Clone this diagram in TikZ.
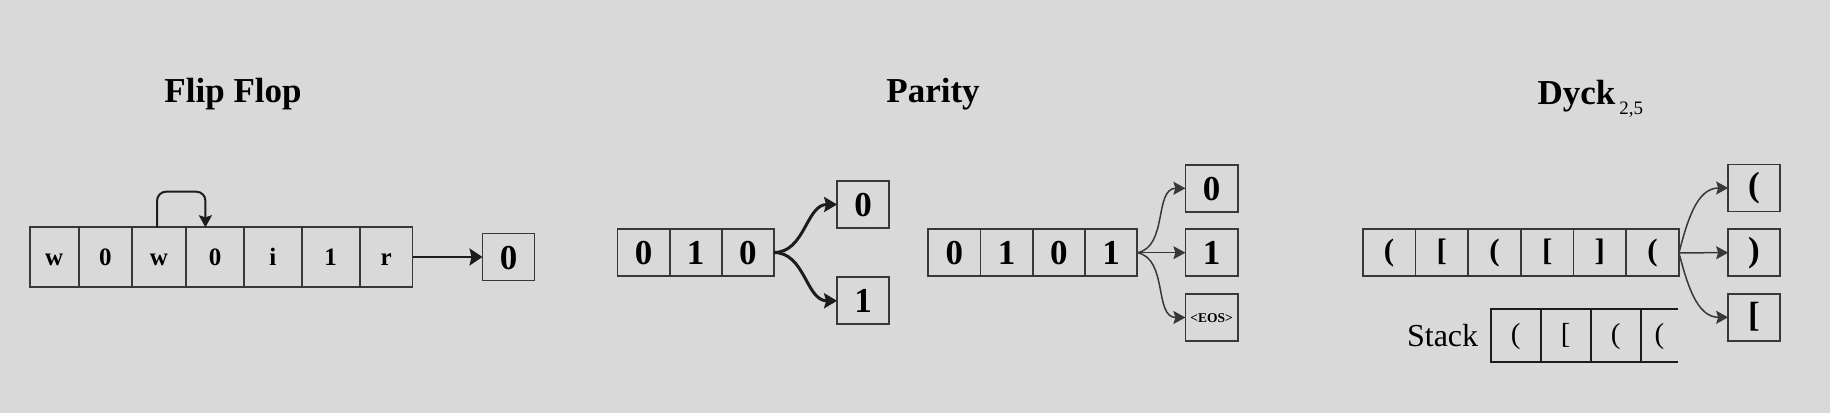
\documentclass[tikz,border=0pt]{standalone}
\usepackage{fontspec}
\setmainfont{Liberation Serif}
\usepackage{tikz}
\usetikzlibrary{arrows.meta,positioning,calc}
\definecolor{bg}{HTML}{D9D9D9}
\definecolor{edge}{HTML}{383838}
\definecolor{ink}{HTML}{1C1C1C}

\begin{document}
\begin{tikzpicture}[x=1pt,y=1pt,
  cell/.style={draw=edge,line width=1.8pt,outer sep=0pt,inner sep=0pt,minimum width=52.2pt,minimum height=47pt,font=\bfseries\fontsize{35}{40}\selectfont,text height=24pt,text depth=0pt},
  ffcell/.style={cell,minimum height=59.4pt,font=\bfseries\fontsize{25}{30}\selectfont,text height=17pt},
  brk/.style={cell,minimum width=52.7pt,font=\bfseries\fontsize{31}{34}\selectfont,text height=21pt,text depth=6.5pt},
  brkres/.style={cell,minimum width=51.7pt,font=\bfseries\fontsize{35}{40}\selectfont,text height=24pt,text depth=6.5pt},
  stk/.style={brk,draw=ink,minimum width=50pt,minimum height=53pt,font=\fontsize{29}{32}\selectfont},
  title/.style={font=\bfseries\fontsize{35}{40}\selectfont,anchor=base},
  arr/.style={-{Stealth[length=13pt,width=17pt,inset=2pt]},color=ink,line width=2.4pt},
  hop/.style={-{Stealth[length=12pt,width=13pt,inset=2pt]},color=ink,line width=2pt,rounded corners=9pt},
  branch/.style={-{Stealth[length=13pt,width=15pt,inset=2pt]},color=ink,line width=3pt},
  fan/.style={-{Stealth[length=12pt,width=13pt,inset=2pt]},color=edge,line width=1.5pt}]
  \fill[bg] (0,0) rectangle (1830,413);
  \useasboundingbox (0,0) rectangle (1830,413);

  \node[title] (fftitle) at (233,310) {Flip Flop};
  \node[title] (patitle) at (933,310) {Parity};
  \node[title,anchor=base west] (dytitle) at (1534,308.7) {Dyck\hspace{4pt}\raisebox{-10pt}{\mdseries\fontsize{19}{20}\selectfont 2,5}};

  \node[ffcell,minimum width=49.3pt,anchor=west] (ff1) at (29.6,156) {w};
  \node[ffcell,minimum width=52.9pt,right=0pt of ff1] (ff2) {0};
  \node[ffcell,minimum width=54.3pt,right=0pt of ff2] (ff3) {w};
  \node[ffcell,minimum width=57.8pt,right=0pt of ff3] (ff4) {0};
  \node[ffcell,minimum width=57.9pt,right=0pt of ff4] (ff5) {i};
  \node[ffcell,minimum width=57.8pt,right=0pt of ff5] (ff6) {1};
  \node[ffcell,minimum width=52.9pt,right=0pt of ff6] (ff7) {r};
  \node[cell,minimum width=52pt] (ffres) at (508.5,156) {0};
  \draw[arr] (ff7) -- (ffres);
  \draw[hop] ($(ff3.north)+(-1.9,0)$) -- ++(0,35.6) -| ($(ff4.north west)+(19.3,0)$);

  \node[cell,anchor=west] (pa1) at (617.4,160.5) {0};
  \node[cell,right=0pt of pa1] (pa2) {1};
  \node[cell,right=0pt of pa2] (pa3) {0};
  \node[cell] (pares0) at (863.2,208.5) {0};
  \node[cell] (pares1) at (863.2,112.2) {1};
  \draw[branch] (pa3.east) to[out=0,in=180] (pares0.west);
  \draw[branch] (pa3.east) to[out=0,in=180] (pares1.west);

  \node[cell,anchor=west] (pb1) at (928.3,160.3) {0};
  \node[cell,right=0pt of pb1] (pb2) {1};
  \node[cell,right=0pt of pb2] (pb3) {0};
  \node[cell,right=0pt of pb3] (pb4) {1};
  \node[cell] (pbres0) at (1211.5,224.7) {0};
  \node[cell] (pbres1) at (1211.5,160.3) {1};
  \node[cell,font=\bfseries\fontsize{13.5}{15}\selectfont,text height=9pt] (pbeos) at (1211.5,95.5) {<EOS>};
  \draw[fan] (pb4.east) to[out=10,in=180] (pbres0.west);
  \draw[fan] (pb4.east) -- (pbres1.west);
  \draw[fan] (pb4.east) to[out=-10,in=180] (pbeos.west);

  \node[brk,anchor=west] (dy1) at (1362.7,160.2) {(};
  \node[brk,right=0pt of dy1] (dy2) {[};
  \node[brk,right=0pt of dy2] (dy3) {(};
  \node[brk,right=0pt of dy3] (dy4) {[};
  \node[brk,right=0pt of dy4] (dy5) {]};
  \node[brk,right=0pt of dy5] (dy6) {(};
  \node[brkres] (dyres0) at (1754,225) {(};
  \node[brkres] (dyres1) at (1754,160.3) {)};
  \node[brkres] (dyres2) at (1754,95.7) {[};
  \draw[fan] (dy6.east) to[out=75,in=180] (dyres0.west);
  \draw[fan] (dy6.east) -- (dyres1.west);
  \draw[fan] (dy6.east) to[out=-75,in=180] (dyres2.west);

  \node[stk,anchor=west] (st1) at (1490.7,77.2) {(};
  \node[stk,right=0pt of st1] (st2) {[};
  \node[stk,right=0pt of st2] (st3) {(};
  \node[stk,draw=none,minimum width=37.6pt,right=0pt of st3] (st4) {(};
  \draw[ink,line width=1.8pt] (st4.north west) -- (st4.north east) (st4.south west) -- (st4.south east);
  \node[font=\fontsize{32}{36}\selectfont,left=9pt of st1] (stacklbl) {Stack};
\end{tikzpicture}
\end{document}
